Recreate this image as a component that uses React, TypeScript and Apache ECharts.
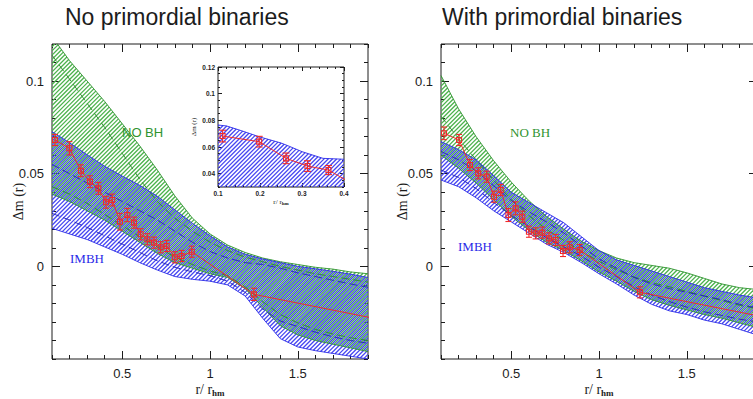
import React, { useEffect, useRef } from "react";
import * as echarts from "echarts";

// ---------- model bands: radius grid (r / r_hm) ----------
const R_GRID = [0.1, 0.2, 0.3, 0.4, 0.5, 0.6, 0.7, 0.8, 0.9, 1.0, 1.1, 1.2, 1.3, 1.4, 1.5, 1.6, 1.7, 1.8, 1.9];

// Left panel: no primordial binaries
const L_NOBH_UP = [0.124, 0.111, 0.1, 0.089, 0.077, 0.065, 0.052, 0.038, 0.026, 0.0175, 0.0115, 0.0075, 0.0045, 0.0025, 0.001, -0.0005, -0.0015, -0.003, -0.004];
const L_NOBH_LO = [0.039, 0.035, 0.03, 0.025, 0.019, 0.013, 0.007, 0.002, -0.001, -0.004, -0.006, -0.012, -0.022, -0.032, -0.037, -0.04, -0.042, -0.044, -0.046];
const L_NOBH_MID1 = [0.114, 0.101, 0.088, 0.075, 0.061, 0.047, 0.035, 0.026, 0.019, 0.013, 0.0085, 0.005, 0.0025, 0.0, -0.002, -0.004, -0.0055, -0.007, -0.0085];
const L_NOBH_MID2 = [0.043, 0.039, 0.034, 0.028, 0.022, 0.016, 0.0105, 0.005, 0.001, -0.0025, -0.005, -0.011, -0.019, -0.026, -0.0305, -0.034, -0.0365, -0.0385, -0.04];
const L_IMBH_UP = [0.0727, 0.0667, 0.0602, 0.054, 0.0487, 0.0437, 0.0378, 0.0305, 0.0232, 0.0165, 0.0105, 0.0065, 0.004, 0.002, 0.0, -0.0013, -0.0027, -0.0042, -0.006];
const L_IMBH_LO = [0.0205, 0.0175, 0.0145, 0.0105, 0.0065, 0.002, -0.002, -0.0055, -0.007, -0.008, -0.01, -0.016, -0.028, -0.039, -0.0435, -0.0455, -0.047, -0.0485, -0.05];
const L_IMBH_MID1 = [0.055, 0.05, 0.045, 0.04, 0.035, 0.03, 0.025, 0.019, 0.013, 0.008, 0.0045, 0.002, 0.001, -0.001, -0.0035, -0.0055, -0.0075, -0.0095, -0.0113];
const L_IMBH_MID2 = [0.0286, 0.025, 0.021, 0.0165, 0.012, 0.0075, 0.003, -0.0005, -0.003, -0.005, -0.008, -0.014, -0.023, -0.0295, -0.0325, -0.0355, -0.038, -0.04, -0.0415];

const L_OBS_R = [0.117, 0.199, 0.265, 0.316, 0.364, 0.408, 0.443, 0.487, 0.529, 0.567, 0.605, 0.643, 0.681, 0.719, 0.753, 0.8, 0.838, 0.896, 1.25];
const L_OBS_DM = [0.0682, 0.0637, 0.0516, 0.0457, 0.0421, 0.0346, 0.0358, 0.0241, 0.0277, 0.0236, 0.0173, 0.0146, 0.0128, 0.0103, 0.011, 0.0049, 0.0056, 0.0079, -0.0151];
const L_OBS_ERR = [0.003, 0.0036, 0.0032, 0.0032, 0.0032, 0.0032, 0.0032, 0.0045, 0.0036, 0.003, 0.003, 0.003, 0.003, 0.003, 0.003, 0.003, 0.003, 0.003, 0.0033];
const L_TAIL = [2.0, -0.0293];

// Right panel: with primordial binaries
const R_NOBH_UP = [0.103, 0.085, 0.07, 0.057, 0.0455, 0.0355, 0.027, 0.02, 0.0135, 0.0085, 0.0045, 0.002, 0.0005, -0.001, -0.0035, -0.0065, -0.0095, -0.0115, -0.0125];
const R_NOBH_LO = [0.06, 0.053, 0.045, 0.036, 0.027, 0.0195, 0.013, 0.0085, 0.003, -0.003, -0.008, -0.0135, -0.018, -0.021, -0.0235, -0.026, -0.028, -0.0305, -0.033];
const R_NOBH_MID = [0.081, 0.069, 0.0575, 0.0465, 0.036, 0.0275, 0.02, 0.014, 0.008, 0.0027, -0.0018, -0.0058, -0.0088, -0.011, -0.0135, -0.016, -0.0185, -0.021, -0.0228];
const R_IMBH_UP = [0.0673, 0.063, 0.0575, 0.049, 0.04, 0.0345, 0.029, 0.0235, 0.016, 0.0085, 0.0035, 0.0005, -0.0025, -0.0055, -0.0085, -0.0115, -0.0135, -0.0155, -0.017];
const R_IMBH_LO = [0.0466, 0.043, 0.037, 0.03, 0.024, 0.018, 0.012, 0.0075, 0.002, -0.004, -0.0095, -0.0155, -0.0205, -0.024, -0.026, -0.029, -0.031, -0.034, -0.037];
const R_IMBH_MID1 = [0.062, 0.0575, 0.0515, 0.0435, 0.0355, 0.0295, 0.024, 0.018, 0.011, 0.004, -0.001, -0.006, -0.0095, -0.012, -0.014, -0.016, -0.018, -0.0205, -0.0225];
const R_IMBH_MID2 = [0.052, 0.048, 0.042, 0.0345, 0.0275, 0.0215, 0.0155, 0.0105, 0.0055, -0.0005, -0.0055, -0.011, -0.0155, -0.019, -0.022, -0.0245, -0.0265, -0.0285, -0.03];

const R_OBS_R = [0.117, 0.203, 0.265, 0.312, 0.36, 0.402, 0.44, 0.484, 0.525, 0.563, 0.601, 0.639, 0.677, 0.715, 0.753, 0.795, 0.833, 0.89, 1.233];
const R_OBS_DM = [0.0718, 0.0682, 0.0547, 0.0502, 0.0484, 0.0376, 0.0412, 0.0277, 0.0313, 0.0268, 0.0187, 0.0178, 0.0182, 0.0151, 0.0142, 0.0083, 0.0103, 0.0088, -0.014];
const R_OBS_ERR = [0.0034, 0.003, 0.003, 0.003, 0.003, 0.003, 0.003, 0.0035, 0.0035, 0.003, 0.003, 0.003, 0.003, 0.003, 0.003, 0.003, 0.003, 0.003, 0.003];
const R_TAIL = [2.0, -0.0285];

// Inset (left panel, inner region)
const INSET_X = [0.1, 0.12, 0.15, 0.2, 0.25, 0.27, 0.3, 0.35, 0.4];
const INSET_IMBH_UP = [0.0765, 0.0758, 0.0728, 0.0675, 0.063, 0.0605, 0.0565, 0.0515, 0.0508];
const INSET_IMBH_LO = [0.0205, 0.02, 0.019, 0.0175, 0.016, 0.0155, 0.0145, 0.0125, 0.0105];
const INSET_OBS_R = [0.111, 0.198, 0.262, 0.313, 0.363];
const INSET_OBS_DM = [0.0682, 0.064, 0.0515, 0.0457, 0.0427];
const INSET_OBS_ERR = [0.0044, 0.004, 0.004, 0.004, 0.0034];
const INSET_TAIL = [0.41, 0.0342];

// ticks
const MAIN_X_MAJOR = [0.5, 1, 1.5];
const MAIN_Y_MAJOR = [0, 0.05, 0.1];
const INSET_X_MAJOR = [0.1, 0.2, 0.3, 0.4];
const INSET_Y_MAJOR = [0.04, 0.06, 0.08, 0.1, 0.12];

// ---------- styles ----------
const INK = "#1c1c1c";
const RED = "#f02a2a";
const GREEN_LINE = "#2f932f";
const GREEN_HATCH = "#4cb24c";
const GREEN_DASH = "#2a882a";
const BLUE_LINE = "#2a2ae8";
const BLUE_HATCH = "#4646f2";
const BLUE_DASH = "#2020b8";
const SANS = '"Liberation Sans", Arial, sans-serif';
const SERIF = '"Liberation Serif", "Times New Roman", serif';
const HATCH_GAP = 4.2;
const HATCH_W = 1.3;

// Diagonal hatch ("/" direction) clipped to a polygon, computed in pixel space.
function hatchSegments(pts: number[][], spacing: number, offset: number) {
  let minC = Infinity;
  let maxC = -Infinity;
  for (const p of pts) {
    const c = p[0] + p[1];
    if (c < minC) minC = c;
    if (c > maxC) maxC = c;
  }
  const segs: number[][] = [];
  const start = Math.ceil((minC - offset) / spacing) * spacing + offset;
  for (let c = start; c <= maxC; c += spacing) {
    const xs: number[] = [];
    for (let i = 0; i < pts.length; i++) {
      const p1 = pts[i];
      const p2 = pts[(i + 1) % pts.length];
      const s1 = p1[0] + p1[1] - c;
      const s2 = p2[0] + p2[1] - c;
      if (s1 < 0 !== s2 < 0) {
        const t = s1 / (s1 - s2);
        xs.push(p1[0] + t * (p2[0] - p1[0]));
      }
    }
    xs.sort((a, b) => a - b);
    for (let k = 0; k + 1 < xs.length; k += 2) {
      segs.push([xs[k], c - xs[k], xs[k + 1], c - xs[k + 1]]);
    }
  }
  return segs;
}

type Ax = { x: number; y: number };

function band(ax: Ax, xs: number[], lo: number[], hi: number[], color: string, offset: number, z: number) {
  return {
    type: "custom",
    xAxisIndex: ax.x,
    yAxisIndex: ax.y,
    clip: true,
    z,
    data: xs.map((x, i) => [x, lo[i], hi[i]]),
    encode: { x: 0, y: [1, 2] },
    renderItem: (params: any, api: any) => {
      if (params.dataIndex !== 0) return null;
      const top: number[][] = [];
      const bot: number[][] = [];
      for (let i = 0; i < xs.length; i++) {
        top.push(api.coord([api.value(0, i), api.value(2, i)]));
        bot.push(api.coord([api.value(0, i), api.value(1, i)]));
      }
      const segs = hatchSegments(top.concat(bot.reverse()), HATCH_GAP, offset);
      return {
        type: "group",
        children: segs.map((s) => ({
          type: "line",
          shape: { x1: s[0], y1: s[1], x2: s[2], y2: s[3] },
          style: { stroke: color, lineWidth: HATCH_W, fill: "none" },
        })),
      };
    },
  };
}

function curve(ax: Ax, xs: number[], ys: number[], color: string, width: number, dash: any, z: number) {
  return {
    type: "line",
    xAxisIndex: ax.x,
    yAxisIndex: ax.y,
    data: xs.map((x, i) => [x, ys[i]]),
    symbol: "none",
    showSymbol: false,
    clip: true,
    z,
    lineStyle: { color, width, type: dash || "solid" },
  };
}

function errBars(ax: Ax, rs: number[], dms: number[], errs: number[], cap: number, box: number, z: number) {
  return {
    type: "custom",
    xAxisIndex: ax.x,
    yAxisIndex: ax.y,
    clip: true,
    z,
    data: rs.map((r, i) => [r, dms[i], errs[i]]),
    encode: { x: 0, y: 1 },
    renderItem: (params: any, api: any) => {
      const x = api.value(0);
      const y = api.value(1);
      const e = api.value(2);
      const c = api.coord([x, y]);
      const a = api.coord([x, y + e]);
      const b = api.coord([x, y - e]);
      const st = { stroke: RED, lineWidth: 1.1, fill: "none" };
      return {
        type: "group",
        children: [
          { type: "line", shape: { x1: c[0], y1: a[1], x2: c[0], y2: b[1] }, style: st },
          { type: "line", shape: { x1: c[0] - cap, y1: a[1], x2: c[0] + cap, y2: a[1] }, style: st },
          { type: "line", shape: { x1: c[0] - cap, y1: b[1], x2: c[0] + cap, y2: b[1] }, style: st },
          { type: "rect", shape: { x: c[0] - box, y: c[1] - box, width: 2 * box, height: 2 * box }, style: st },
        ],
      };
    },
  };
}

function obsLine(ax: Ax, rs: number[], dms: number[], tail: number[], z: number) {
  const xs = rs.concat([tail[0]]);
  const ys = dms.concat([tail[1]]);
  return curve(ax, xs, ys, RED, 1, null, z);
}

type AxOpts = {
  xMin: number; xMax: number; xStep: number; xMajor: number[];
  yMin: number; yMax: number; yStep: number; yMajor: number[];
  minor: number; major: number;
  labelSize: number; labelWeight: string; labelMargin: number;
  xName: string; xNameGap: number; yName: string; yNameGap: number;
  nameSize: number; subSize: number; subLH: number; z: number;
};

function fmt(majors: number[]) {
  return (v: number) => {
    const m = majors.find((t) => Math.abs(t - v) < 1e-7);
    return m === undefined ? "" : String(m);
  };
}

function axesFor(gi: number, o: AxOpts) {
  const tick = { color: INK, width: 1 };
  const base: any = {
    type: "value",
    gridIndex: gi,
    splitLine: { show: false },
    axisLine: { show: false, onZero: false },
    z: o.z,
    nameMoveOverlap: false,
  };
  const lab = (majors: number[]) => ({
    show: true,
    formatter: fmt(majors),
    color: INK,
    fontFamily: SANS,
    fontSize: o.labelSize,
    fontWeight: o.labelWeight,
    margin: o.labelMargin,
    showMinLabel: true,
    showMaxLabel: true,
    hideOverlap: false,
  });
  const xr = { min: o.xMin, max: o.xMax, interval: o.xStep };
  const yr = { min: o.yMin, max: o.yMax, interval: o.yStep };
  const nameStyle = (sub: boolean) => ({
    fontFamily: SERIF,
    fontSize: o.nameSize,
    color: INK,
    rich: sub
      ? {
          sub: {
            fontFamily: SERIF,
            fontSize: o.subSize,
            fontWeight: "bold",
            color: INK,
            verticalAlign: "bottom",
            lineHeight: o.subLH,
          },
        }
      : undefined,
  });
  const x = [
    {
      ...base, ...xr, position: "bottom",
      axisTick: { show: true, inside: true, length: o.minor, lineStyle: tick },
      axisLabel: lab(o.xMajor),
      name: o.xName, nameLocation: "middle", nameGap: o.xNameGap, nameTextStyle: nameStyle(true),
    },
    {
      ...base, ...xr, position: "bottom",
      axisTick: { show: true, inside: true, length: o.major, lineStyle: tick, customValues: o.xMajor },
      axisLabel: { show: false },
    },
    {
      ...base, ...xr, position: "top",
      axisTick: { show: true, inside: true, length: o.minor, lineStyle: tick },
      axisLabel: { show: false },
    },
    {
      ...base, ...xr, position: "top",
      axisTick: { show: true, inside: true, length: o.major, lineStyle: tick, customValues: o.xMajor },
      axisLabel: { show: false },
    },
  ];
  const y = [
    {
      ...base, ...yr, position: "left",
      axisTick: { show: true, inside: true, length: o.minor, lineStyle: tick },
      axisLabel: lab(o.yMajor),
      name: o.yName, nameLocation: "middle", nameGap: o.yNameGap, nameTextStyle: nameStyle(false),
    },
    {
      ...base, ...yr, position: "left",
      axisTick: { show: true, inside: true, length: o.major, lineStyle: tick, customValues: o.yMajor },
      axisLabel: { show: false },
    },
    {
      ...base, ...yr, position: "right",
      axisTick: { show: true, inside: true, length: o.minor, lineStyle: tick },
      axisLabel: { show: false },
    },
    {
      ...base, ...yr, position: "right",
      axisTick: { show: true, inside: true, length: o.major, lineStyle: tick, customValues: o.yMajor },
      axisLabel: { show: false },
    },
  ];
  return { x, y };
}

function buildOption() {
  const mainBase = {
    xMin: 0.1, xMax: 1.9, xStep: 0.1, xMajor: MAIN_X_MAJOR,
    yMin: -0.05, yMax: 0.12, yStep: 0.01, yMajor: MAIN_Y_MAJOR,
    minor: 4, major: 8, labelSize: 13, labelWeight: "normal", labelMargin: 8,
    xName: "r/ r{sub|hm}", xNameGap: 22, yName: "Δm (r)",
    nameSize: 14, subSize: 9, subLH: 16, z: 1,
  };
  const a0 = axesFor(0, { ...mainBase, yNameGap: 27 });
  const a1 = axesFor(1, { ...mainBase, yNameGap: 32 });
  const a2 = axesFor(2, {
    xMin: 0.1, xMax: 0.4, xStep: 0.02, xMajor: INSET_X_MAJOR,
    yMin: 0.03, yMax: 0.12, yStep: 0.005, yMajor: INSET_Y_MAJOR,
    minor: 2, major: 4, labelSize: 6.5, labelWeight: "bold", labelMargin: 3,
    xName: "r/ r{sub|hm}", xNameGap: 10, yName: "Δm (r)", yNameGap: 21,
    nameSize: 7, subSize: 5, subLH: 9, z: 21,
  });

  const L: Ax = { x: 0, y: 0 };
  const R: Ax = { x: 4, y: 4 };
  const I: Ax = { x: 8, y: 8 };

  const dash = [8, 4];
  const gOff = HATCH_GAP / 2;

  const series: any[] = [
    // left panel
    band(L, R_GRID, L_NOBH_LO, L_NOBH_UP, GREEN_HATCH, gOff, 2),
    band(L, R_GRID, L_IMBH_LO, L_IMBH_UP, BLUE_HATCH, 0, 3),
    curve(L, R_GRID, L_NOBH_UP, GREEN_LINE, 0.9, null, 4),
    curve(L, R_GRID, L_NOBH_LO, GREEN_LINE, 0.9, null, 4),
    curve(L, R_GRID, L_NOBH_MID1, GREEN_DASH, 0.9, dash, 4),
    curve(L, R_GRID, L_NOBH_MID2, GREEN_DASH, 0.9, dash, 4),
    curve(L, R_GRID, L_IMBH_UP, BLUE_LINE, 0.9, null, 5),
    curve(L, R_GRID, L_IMBH_LO, BLUE_LINE, 0.9, null, 5),
    curve(L, R_GRID, L_IMBH_MID1, BLUE_DASH, 0.9, dash, 5),
    curve(L, R_GRID, L_IMBH_MID2, BLUE_DASH, 0.9, dash, 5),
    obsLine(L, L_OBS_R, L_OBS_DM, L_TAIL, 6),
    errBars(L, L_OBS_R, L_OBS_DM, L_OBS_ERR, 3, 2.5, 7),
    // right panel
    band(R, R_GRID, R_NOBH_LO, R_NOBH_UP, GREEN_HATCH, gOff, 2),
    band(R, R_GRID, R_IMBH_LO, R_IMBH_UP, BLUE_HATCH, 0, 3),
    curve(R, R_GRID, R_NOBH_UP, GREEN_LINE, 0.9, null, 4),
    curve(R, R_GRID, R_NOBH_LO, GREEN_LINE, 0.9, null, 4),
    curve(R, R_GRID, R_NOBH_MID, GREEN_DASH, 0.9, dash, 4),
    curve(R, R_GRID, R_IMBH_UP, BLUE_LINE, 0.9, null, 5),
    curve(R, R_GRID, R_IMBH_LO, BLUE_LINE, 0.9, null, 5),
    curve(R, R_GRID, R_IMBH_MID1, BLUE_DASH, 0.9, dash, 5),
    curve(R, R_GRID, R_IMBH_MID2, BLUE_DASH, 0.9, dash, 5),
    obsLine(R, R_OBS_R, R_OBS_DM, R_TAIL, 6),
    errBars(R, R_OBS_R, R_OBS_DM, R_OBS_ERR, 3, 2.5, 7),
    // inset
    band(I, INSET_X, INSET_IMBH_LO, INSET_IMBH_UP, BLUE_HATCH, 0, 22),
    curve(I, INSET_X, INSET_IMBH_UP, BLUE_LINE, 0.9, null, 23),
    obsLine(I, INSET_OBS_R, INSET_OBS_DM, INSET_TAIL, 24),
    errBars(I, INSET_OBS_R, INSET_OBS_DM, INSET_OBS_ERR, 3.5, 2.5, 25),
  ];

  const gridBase = {
    show: true,
    borderColor: INK,
    borderWidth: 1,
    containLabel: false,
    outerBoundsMode: "none",
  };

  return {
    animation: false,
    backgroundColor: "#ffffff",
    title: [
      {
        text: "No primordial binaries", left: 65, top: 5, padding: 0,
        textStyle: { fontFamily: SANS, fontSize: 23, fontWeight: "normal", color: INK },
      },
      {
        text: "With primordial binaries", left: 442, top: 5, padding: 0,
        textStyle: { fontFamily: SANS, fontSize: 23, fontWeight: "normal", color: INK },
      },
    ],
    grid: [
      { ...gridBase, left: 52, top: 44, width: 316, height: 315, backgroundColor: "transparent", z: 0 },
      { ...gridBase, left: 441, top: 44, width: 316, height: 315, backgroundColor: "transparent", z: 0 },
      { ...gridBase, left: 218, top: 67, width: 126, height: 120, backgroundColor: "#ffffff", z: 20 },
    ],
    xAxis: [...a0.x, ...a1.x, ...a2.x],
    yAxis: [...a0.y, ...a1.y, ...a2.y],
    series,
    graphic: [
      { type: "text", x: 122, y: 132, z: 100, style: { text: "NO BH", fill: GREEN_LINE, font: `13px ${SANS}`, verticalAlign: "middle", align: "left" } },
      { type: "text", x: 70, y: 258, z: 100, style: { text: "IMBH", fill: BLUE_LINE, font: `13px ${SERIF}`, verticalAlign: "middle", align: "left" } },
      { type: "text", x: 510, y: 132, z: 100, style: { text: "NO BH", fill: GREEN_LINE, font: `13px ${SERIF}`, verticalAlign: "middle", align: "left" } },
      { type: "text", x: 458, y: 246, z: 100, style: { text: "IMBH", fill: BLUE_LINE, font: `13px ${SERIF}`, verticalAlign: "middle", align: "left" } },
    ],
  };
}

export default function App() {
  const ref = useRef<HTMLDivElement>(null);
  useEffect(() => {
    if (!ref.current) return;
    const chart = echarts.init(ref.current, undefined, { renderer: "svg" });
    chart.setOption(buildOption() as any);
    return () => chart.dispose();
  }, []);
  return (
    <div
      ref={ref}
      style={{ position: "absolute", left: 0, top: 0, width: 753, height: 399, background: "#fff" }}
    />
  );
}
